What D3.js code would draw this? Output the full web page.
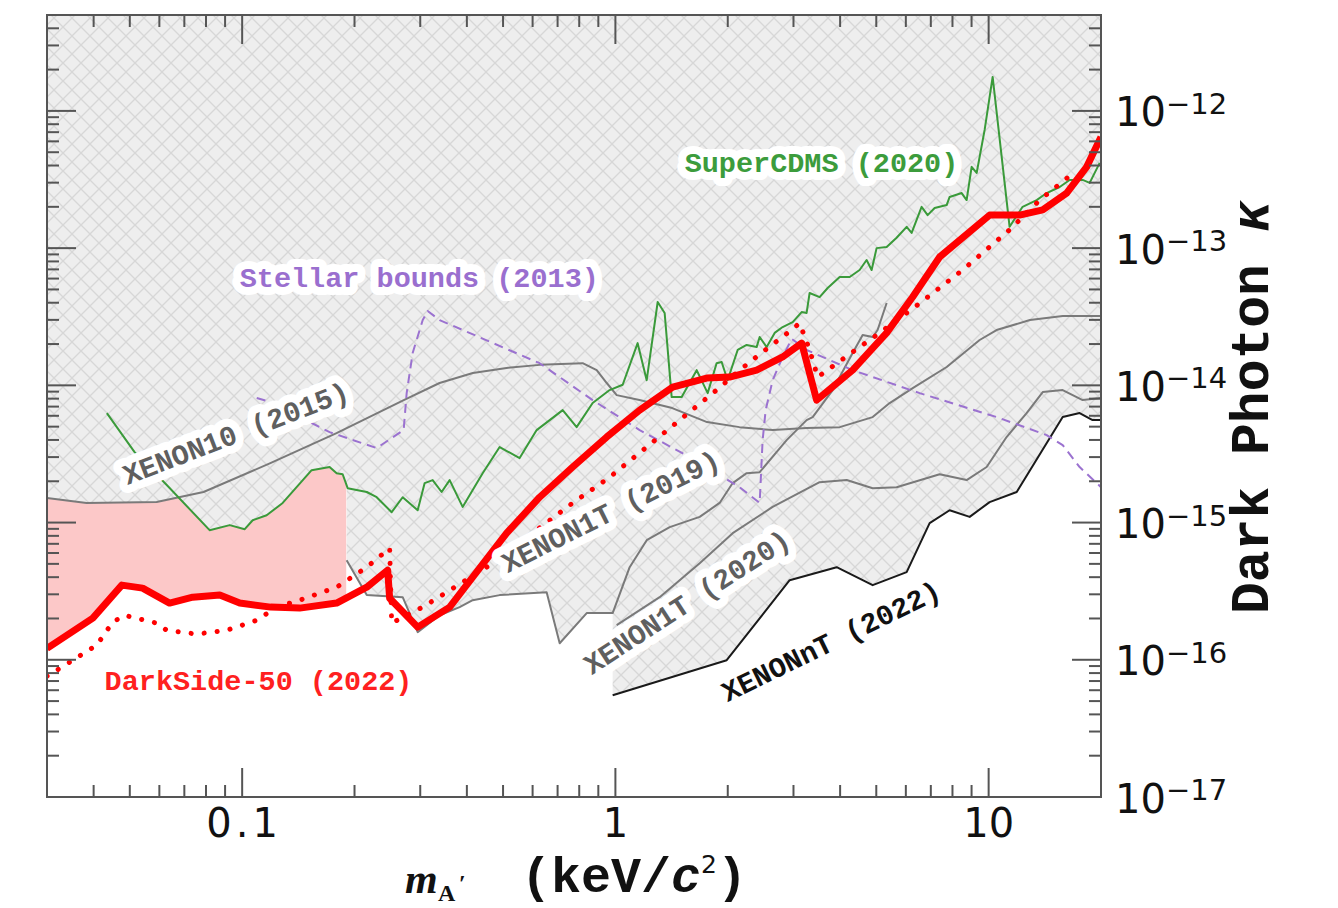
<!DOCTYPE html>
<html>
<head>
<meta charset="utf-8">
<script src="https://cdn.jsdelivr.net/npm/d3@7"></script>
<style>
  body { margin: 0; background: #fff; }
</style>
</head>
<body>
<div id="chart"></div>
<script>
// [mass in keV/c^2, kappa]
var xenon10 = [[0.03,1.51e-15],[0.0383,1.39e-15],[0.059,1.41e-15],[0.0788,1.67e-15],[0.119,2.71e-15],[0.179,4.49e-15],[0.271,7.81e-15],[0.338,1.04e-14],[0.415,1.23e-14],[0.511,1.34e-14],[0.627,1.41e-14],[0.817,1.45e-14],[0.891,1.29e-14],[0.948,1.04e-14],[1.008,8.49e-15],[1.16,7.81e-15],[1.42,6.83e-15],[1.76,5.40e-15],[2.15,4.96e-15],[2.64,4.72e-15],[3.25,4.88e-15],[3.99,4.96e-15],[4.89,5.87e-15],[5.43,7.43e-15],[6.26,9.55e-15],[7.72,1.36e-14],[9.46,2.14e-14],[10.5,2.53e-14],[12.9,2.99e-14],[15.8,3.20e-14],[20,3.20e-14]];

var superCDMS = [[0.0434,6.28e-15],[0.0515,3.26e-15],[0.0628,1.88e-15],[0.0818,8.80e-16],[0.0926,9.58e-16],[0.1016,8.95e-16],[0.1067,1.04e-15],[0.1163,1.13e-15],[0.1284,1.39e-15],[0.1535,2.41e-15],[0.1715,2.54e-15],[0.1791,2.29e-15],[0.1859,2.25e-15],[0.1917,1.78e-15],[0.2157,1.67e-15],[0.2293,1.53e-15],[0.2515,1.19e-15],[0.2692,1.53e-15],[0.2953,1.23e-15],[0.3083,1.94e-15],[0.3239,2.04e-15],[0.3423,1.67e-15],[0.3597,2.04e-15],[0.3897,1.30e-15],[0.4409,2.29e-15],[0.4896,3.55e-15],[0.5539,2.95e-15],[0.6152,4.72e-15],[0.7225,6.60e-15],[0.7873,4.96e-15],[0.869,7.43e-15],[0.965,9.24e-15],[1.046,1.01e-14],[1.147,2.03e-14],[1.213,1.09e-14],[1.298,4.05e-14],[1.355,3.37e-14],[1.415,8.21e-15],[1.505,8.21e-15],[1.651,1.29e-14],[1.767,8.78e-15],[1.867,1.45e-14],[1.926,1.48e-14],[1.998,1.09e-14],[2.126,1.81e-14],[2.247,1.97e-14],[2.39,1.90e-14],[2.435,2.25e-14],[2.543,1.90e-14],[2.671,2.41e-14],[2.806,2.66e-14],[2.985,2.89e-14],[3.155,3.42e-14],[3.253,3.37e-14],[3.314,4.71e-14],[3.525,4.40e-14],[3.704,5.12e-14],[3.99,6.16e-14],[4.243,6.16e-14],[4.511,6.93e-14],[4.71,8.19e-14],[4.858,6.93e-14],[5.01,1.00e-13],[5.33,1.02e-13],[5.668,1.19e-13],[6.03,1.43e-13],[6.219,1.29e-13],[6.613,2.00e-13],[6.863,1.74e-13],[7.167,1.96e-13],[7.717,2.06e-13],[7.862,2.36e-13],[8.467,2.52e-13],[8.73,2.24e-13],[9.004,3.91e-13],[9.287,3.53e-13],[9.756,7.27e-13],[10.25,1.77e-12],[11.38,1.43e-13],[12.33,2.00e-13],[13.45,2.24e-13],[14.3,2.52e-13],[15.5,2.79e-13],[16.48,3.14e-13],[17.86,3.14e-13],[18.65,2.99e-13],[19.84,4.18e-13]];

var stellar = [[0.1094,8.08e-15],[0.1192,7.55e-15],[0.1715,4.56e-15],[0.2293,3.49e-15],[0.2708,4.72e-15],[0.2759,8.78e-15],[0.2863,1.72e-14],[0.3046,2.99e-14],[0.3141,3.48e-14],[0.3381,2.99e-14],[0.6266,1.45e-14],[0.869,7.81e-15],[1.1615,4.72e-15],[1.581,3.00e-15],[2.152,1.81e-15],[2.435,1.39e-15],[2.48,3.99e-15],[2.527,6.60e-15],[2.638,1.09e-14],[2.806,1.61e-14],[2.967,2.18e-14],[3.253,1.81e-14],[4.321,1.29e-14],[6.534,8.78e-15],[10.51,5.87e-15],[14.3,4.34e-15],[15.79,3.67e-15],[17.53,2.54e-15],[20,1.81e-15]];

var xenon1t2019 = [[0.1905,5.32e-16],[0.2157,2.96e-16],[0.2692,2.86e-16],[0.2953,1.59e-16],[0.3381,2.11e-16],[0.3825,2.42e-16],[0.4146,2.72e-16],[0.4896,2.96e-16],[0.6543,3.11e-16],[0.7091,1.32e-16],[0.8377,2.19e-16],[0.9832,2.19e-16],[1.092,4.73e-16],[1.213,7.44e-16],[1.398,9.26e-16],[1.682,1.10e-15],[1.902,1.39e-15],[2.062,1.94e-15],[2.247,2.29e-15],[2.435,2.33e-15],[2.876,3.99e-15],[3.253,5.58e-15],[3.377,5.87e-15],[3.82,9.24e-15],[4.321,1.72e-14],[4.597,2.33e-14],[4.89,2.25e-14],[5.041,2.53e-14],[5.33,3.98e-14]];

var xenon1t2020 = [[1.008,1.79e-16],[1.314,2.86e-16],[1.682,5.06e-16],[2.062,8.37e-16],[2.638,1.30e-15],[3.525,1.97e-15],[4.165,2.04e-15],[4.89,1.78e-15],[5.668,1.81e-15],[7.391,2.25e-15],[8.73,2.04e-15],[9.877,2.54e-15],[11.17,4.20e-15],[12.64,6.28e-15],[13.96,8.93e-15],[15.79,9.24e-15],[17.86,7.81e-15],[20,8.08e-15]];

var xenonNT = [[0.9832,5.51e-17],[1.987,9.93e-17],[2.93,3.80e-16],[3.915,4.73e-16],[4.89,3.50e-16],[6.03,4.35e-16],[6.949,9.90e-16],[7.862,1.23e-15],[8.895,1.10e-15],[10.06,1.41e-15],[11.89,1.67e-15],[15.79,5.87e-15],[17.53,6.28e-15],[18.99,5.58e-15],[20,5.58e-15]];

var darkside = [[0.03,1.21e-16],[0.0398,2.01e-16],[0.0476,3.50e-16],[0.0541,3.33e-16],[0.0639,2.59e-16],[0.0737,2.86e-16],[0.0871,2.96e-16],[0.0985,2.59e-16],[0.1192,2.42e-16],[0.1426,2.38e-16],[0.1791,2.59e-16],[0.2157,3.38e-16],[0.2454,4.50e-16],[0.2484,2.81e-16],[0.2953,1.73e-16],[0.3597,2.42e-16],[0.4146,4.00e-16],[0.5111,8.37e-16],[0.6266,1.53e-15],[0.7683,2.54e-15],[0.9475,4.20e-15],[1.1615,6.60e-15],[1.4234,9.72e-15],[1.756,1.13e-14],[2.023,1.15e-14],[2.39,1.29e-14],[2.806,1.61e-14],[3.155,2.03e-14],[3.461,7.81e-15],[4.321,1.29e-14],[5.33,2.41e-14],[6.257,4.40e-14],[7.391,8.62e-14],[10.06,1.74e-13],[12.11,1.74e-13],[13.96,1.90e-13],[16.18,2.52e-13],[18.31,3.91e-13],[20,6.46e-13]];

var darksideDotted = [[0.03,7.59e-17],[0.0345,9.60e-17],[0.0408,1.28e-16],[0.045,1.88e-16],[0.0484,2.11e-16],[0.059,1.85e-16],[0.0628,1.64e-16],[0.0755,1.54e-16],[0.0909,1.64e-16],[0.1094,1.94e-16],[0.1237,2.42e-16],[0.1426,2.72e-16],[0.1791,3.38e-16],[0.2157,4.73e-16],[0.2484,6.51e-16],[0.2515,1.85e-16],[0.3046,2.42e-16],[0.4519,4.73e-16],[0.6152,8.80e-16],[0.7683,1.39e-15],[0.9652,2.14e-15],[1.213,3.55e-15],[1.486,5.58e-15],[1.867,9.24e-15],[2.152,1.29e-14],[2.48,1.75e-14],[2.894,2.41e-14],[3.116,2.84e-14],[3.314,1.81e-14],[3.483,1.15e-14],[4.321,1.75e-14],[5.105,2.41e-14],[6.336,3.72e-14],[8.518,6.93e-14],[11.38,1.36e-13],[13.7,2.24e-13],[17.0,3.59e-13]];

// DarkSide-50 new exclusion stops here
var pinkEdge = 0.19;

// annotations: text, mass, kappa, angle
var labelText = ["Stellar bounds (2013)", "SuperCDMS (2020)", "DarkSide-50 (2022)", "XENON10 (2015)", "XENON1T (2019)", "XENON1T (2020)", "XENONnT (2022)"];
var labelMass = [0.0985, 1.533, 0.0428, 0.0493, 0.5145, 0.8637, 1.998];
var labelKappa = [5.21e-14, 3.59e-13, 6.0e-17, 1.875e-15, 4.28e-16, 7.72e-17, 4.90e-17];
var labelAngle = [0, 0, 0, -21, -26.5, -33, -26];
var labelColor = ["#9a6fcf", "#3c9c3c", "#ff2020", "#5f5f5f", "#5f5f5f", "#5f5f5f", "#111111"];

var width = 1338, height = 908;
var pLeft = 47, pRight = 1101, pTop = 15, pBottom = 797;

var svg = d3.select("#chart").append("svg")
  .attr("width", width)
  .attr("height", height);

var x = d3.scaleLog().domain([0.03, 20]).range([pLeft, pRight]);
var y = d3.scaleLog().domain([1e-17, 5e-12]).range([pBottom, pTop]);

var line = d3.line().x(d => x(d[0])).y(d => y(d[1]));
var aboveArea = d3.area().x(d => x(d[0])).y0(pTop).y1(d => y(d[1]));
var belowArea = d3.area().x(d => x(d[0])).y0(pBottom).y1(d => y(d[1]));

var defs = svg.append("defs");

var pat = defs.append("pattern")
  .attr("id", "hatch")
  .attr("patternUnits", "userSpaceOnUse")
  .attr("width", 18)
  .attr("height", 18);
pat.append("rect").attr("width", 18).attr("height", 18).attr("fill", "#eeeeee");
pat.append("path")
  .attr("d", "M0,0L18,18M18,0L0,18")
  .attr("stroke", "#d7d7d7")
  .attr("stroke-width", 1.3);

defs.append("clipPath").attr("id", "plotClip")
  .append("rect")
  .attr("x", pLeft).attr("y", pTop)
  .attr("width", pRight - pLeft).attr("height", pBottom - pTop);

defs.append("clipPath").attr("id", "belowX10")
  .append("path").attr("d", belowArea(xenon10));

var cc = defs.append("clipPath").attr("id", "belowCDMS");
cc.append("path").attr("d", belowArea(superCDMS));
cc.append("rect")
  .attr("x", pLeft).attr("y", pTop)
  .attr("width", x(superCDMS[0][0]) - pLeft).attr("height", pBottom - pTop);

defs.append("clipPath").attr("id", "pinkRange")
  .append("rect")
  .attr("x", pLeft).attr("y", pTop)
  .attr("width", x(pinkEdge) - pLeft).attr("height", pBottom - pTop);

var plot = svg.append("g").attr("clip-path", "url(#plotClip)");

// excluded region = union of the areas above each limit
[xenon10, superCDMS, xenon1t2019, xenon1t2020, xenonNT].forEach(function(s) {
  plot.append("path")
    .attr("d", aboveArea(s))
    .attr("fill", "url(#hatch)");
});

// new DarkSide-50 region
plot.append("g").attr("clip-path", "url(#pinkRange)")
  .append("g").attr("clip-path", "url(#belowX10)")
  .append("g").attr("clip-path", "url(#belowCDMS)")
  .append("path")
  .attr("d", aboveArea(darkside))
  .attr("fill", "#fcc8c8");

function drawLine(data, color, w, dash) {
  var p = plot.append("path")
    .datum(data)
    .attr("d", line)
    .attr("fill", "none")
    .attr("stroke", color)
    .attr("stroke-width", w)
    .attr("stroke-linejoin", "round");
  if (dash) p.attr("stroke-dasharray", dash);
  return p;
}

drawLine(xenon10, "#7a7a7a", 2);
drawLine(xenon1t2019, "#7a7a7a", 2);
drawLine(xenon1t2020, "#7a7a7a", 2);
drawLine(xenonNT, "#1a1a1a", 2);
drawLine(stellar, "#9b72d0", 2, "9,6");
drawLine(superCDMS, "#3a9a3a", 2);
drawLine(darksideDotted, "#ff0000", 5, "0.1,13").attr("stroke-linecap", "round");
drawLine(darkside, "#ff0000", 7);

// annotations
labelText.forEach(function(t, i) {
  svg.append("text")
    .attr("transform", "translate(" + x(labelMass[i]) + "," + y(labelKappa[i]) + ") rotate(" + labelAngle[i] + ")")
    .attr("font-family", "Liberation Mono, monospace")
    .attr("font-weight", "bold")
    .attr("font-size", 28.5)
    .attr("fill", labelColor[i])
    .attr("stroke", "#fff")
    .attr("stroke-width", 16)
    .attr("stroke-linejoin", "round")
    .attr("paint-order", "stroke")
    .text(t);
});

// frame and ticks
var axis = svg.append("g").attr("stroke", "#555").attr("stroke-width", 2);

function isMajor(t) {
  var l = Math.log10(t);
  return Math.abs(l - Math.round(l)) < 1e-6;
}

x.ticks().forEach(function(t) {
  var L = isMajor(t) ? 29 : 12;
  axis.append("line").attr("x1", x(t)).attr("x2", x(t)).attr("y1", pBottom).attr("y2", pBottom - L);
  axis.append("line").attr("x1", x(t)).attr("x2", x(t)).attr("y1", pTop).attr("y2", pTop + L);
});

y.ticks().forEach(function(t) {
  var L = isMajor(t) ? 29 : 12;
  axis.append("line").attr("x1", pLeft).attr("x2", pLeft + L).attr("y1", y(t)).attr("y2", y(t));
  axis.append("line").attr("x1", pRight).attr("x2", pRight - L).attr("y1", y(t)).attr("y2", y(t));
});

axis.append("rect")
  .attr("x", pLeft).attr("y", pTop)
  .attr("width", pRight - pLeft).attr("height", pBottom - pTop)
  .attr("fill", "none");

// tick labels
var xLabels = [0.1, 1, 10];
svg.selectAll(".xl").data(xLabels).enter().append("text")
  .attr("x", d => x(d) + (d < 1 ? 2 : 0))
  .attr("y", 837)
  .attr("text-anchor", "middle")
  .attr("font-family", "DejaVu Sans, sans-serif")
  .attr("font-size", 40)
  .attr("letter-spacing", d => d < 1 ? 4 : 0)
  .attr("fill", "#111")
  .text(d => d);

var yLabels = y.ticks().filter(isMajor);
var yl = svg.selectAll(".yl").data(yLabels).enter().append("text")
  .attr("x", pRight + 14)
  .attr("y", d => y(d) + 15.5)
  .attr("font-family", "DejaVu Sans, sans-serif")
  .attr("fill", "#111");
yl.append("tspan").attr("font-size", 40).text("10");
yl.append("tspan").attr("font-size", 29).attr("dy", -12.5)
  .text(d => "\u2212" + Math.abs(Math.round(Math.log10(d))));

// axis titles
svg.append("text")
  .attr("x", 405).attr("y", 893)
  .attr("font-family", "Liberation Serif, serif")
  .attr("font-weight", "bold").attr("font-style", "italic")
  .attr("font-size", 42).attr("fill", "#111")
  .text("m");
svg.append("text")
  .attr("x", 438).attr("y", 901)
  .attr("font-family", "Liberation Serif, serif")
  .attr("font-weight", "bold")
  .attr("font-size", 24).attr("fill", "#111")
  .text("A");
svg.append("text")
  .attr("x", 459).attr("y", 891)
  .attr("font-family", "Liberation Serif, serif")
  .attr("font-weight", "bold")
  .attr("font-size", 24).attr("fill", "#111")
  .text("\u2032");

var xt = svg.append("text")
  .attr("x", 521).attr("y", 892)
  .attr("font-family", "Liberation Mono, monospace")
  .attr("font-weight", "bold")
  .attr("font-size", 50).attr("fill", "#111");
xt.append("tspan").text("(keV/");
xt.append("tspan").attr("font-style", "italic").text("c");
xt.append("tspan").attr("font-family", "DejaVu Sans, sans-serif").attr("font-weight", "normal")
  .attr("font-size", 25).attr("dy", -19).text("2");
xt.append("tspan").attr("dy", 19).text(")");

var yt = svg.append("text")
  .attr("transform", "translate(1268,614) rotate(-90)")
  .attr("font-family", "Liberation Mono, monospace")
  .attr("font-weight", "bold")
  .attr("font-size", 53).attr("fill", "#111");
yt.append("tspan").text("Dark Photon ");
yt.append("tspan").attr("font-style", "italic").text("\u03ba");
</script>
</body>
</html>
